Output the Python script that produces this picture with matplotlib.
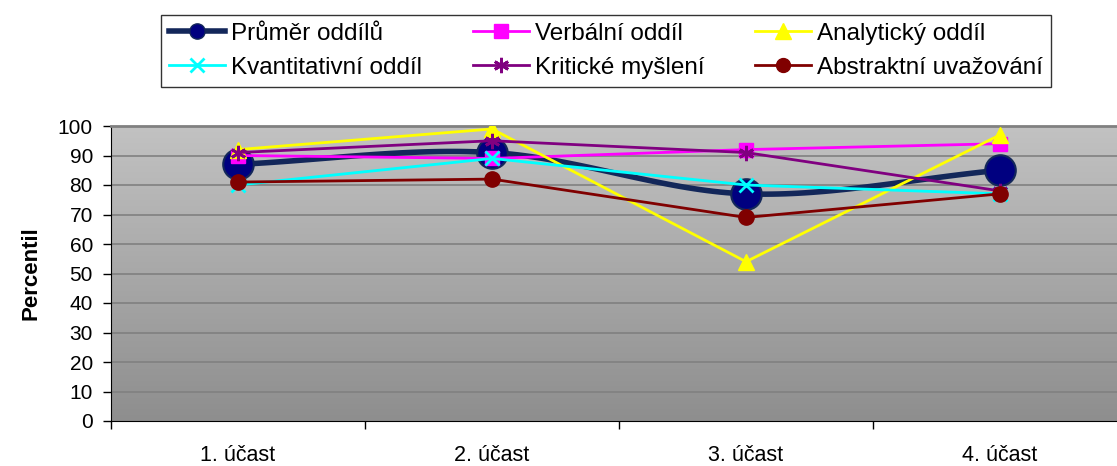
import numpy as np
import matplotlib
matplotlib.use("Agg")
import matplotlib.pyplot as plt
from matplotlib.lines import Line2D

plt.rcParams['font.family'] = ['Liberation Sans', 'DejaVu Sans']

categories = ["1. účast", "2. účast", "3. účast", "4. účast"]
prumer = [87, 91, 77, 85]
verbalni = [90, 89, 92, 94]
analyticky = [92, 99, 54, 97]
kvantitativni = [80, 89, 80, 77]
kriticke = [91, 95, 91, 78]
abstraktni = [81, 82, 69, 77]
yticks = list(range(0, 101, 10))

W, H = 1117, 466
fig = plt.figure(figsize=(W / 100, H / 100), dpi=100)
ax = fig.add_axes([111 / W, (H - 421) / H, 1016 / W, 295 / H])

x = np.arange(len(categories))

# gradient background (light at top, darker at bottom)
grad = np.linspace(0, 1, 256).reshape(-1, 1)
top = np.array([194, 194, 194]) / 255
bot = np.array([142, 142, 142]) / 255
img = top[None, None, :] * (1 - grad[:, :, None]) + bot[None, None, :] * grad[:, :, None]
ax.imshow(img, extent=[-0.5, 3.5, 0, 100], aspect='auto', zorder=0, origin='upper')
ax.set_xlim(-0.5, 3.5)
ax.set_ylim(0, 100)

for yv in yticks[1:]:
    ax.axhline(yv, color='#808080', lw=1.2, zorder=1)


def catmull(xs, ys, n=40):
    xs = np.asarray(xs, float); ys = np.asarray(ys, float)
    px = np.concatenate([[2 * xs[0] - xs[1]], xs, [2 * xs[-1] - xs[-2]]])
    py = np.concatenate([[2 * ys[0] - ys[1]], ys, [2 * ys[-1] - ys[-2]]])
    ox, oy = [], []
    for i in range(1, len(px) - 2):
        t = np.linspace(0, 1, n)
        for arr, out in ((px, ox), (py, oy)):
            p0, p1, p2, p3 = arr[i - 1], arr[i], arr[i + 1], arr[i + 2]
            out.extend(0.5 * ((2 * p1) + (-p0 + p2) * t + (2 * p0 - 5 * p1 + 4 * p2 - p3) * t ** 2
                              + (-p0 + 3 * p1 - 3 * p2 + p3) * t ** 3))
    return np.array(ox), np.array(oy)

navy_line = '#13275a'
sx, sy = catmull(x, prumer)
ax.plot(sx, sy, color=navy_line, lw=4, zorder=2, solid_capstyle='round')
ax.plot(x, prumer, ls='none', marker='o', ms=22, mfc='#000080', mec=navy_line, mew=1.5, zorder=2)

series = [
    (verbalni, '#ff00ff', 's', 10, {}),
    (analyticky, '#ffff00', '^', 11, {}),
    (kvantitativni, '#00ffff', 'x', 10, {'mew': 2}),
    (kriticke, '#800080', (6, 2, 0), 11, {'mew': 2}),
    (abstraktni, '#800000', 'o', 11, {}),
]
for i, (vals, col, mk, ms, kw) in enumerate(series):
    ax.plot(x, vals, color=col, lw=2, marker=mk, ms=ms, mfc=col, mec=col, zorder=3 + i, **kw)

ax.set_yticks(yticks)
ax.set_xticks(x)
ax.set_xticklabels(categories, fontsize=15.5)
ax.tick_params(axis='x', length=0, pad=17)
ax.set_xticks(np.arange(-0.5, 4.0, 1.0), minor=True)
ax.tick_params(axis='x', which='minor', length=6, width=1, direction='out', color='black')
ax.tick_params(axis='y', labelsize=15, length=6, width=1, direction='out', pad=7)
ax.spines['right'].set_visible(False)
ax.spines['top'].set_color('#808080')
ax.spines['top'].set_linewidth(2)
ax.spines['left'].set_color('black')
ax.spines['bottom'].set_color('black')
ax.set_ylabel('Percentil', fontsize=16, fontweight='bold', labelpad=12)

handles = [
    Line2D([], [], color=navy_line, lw=4, marker='o', ms=11, mfc='#000080', mec=navy_line, label='Průměr oddílů'),
    Line2D([], [], color='#00ffff', lw=2, marker='x', ms=10, mew=2, mec='#00ffff', label='Kvantitativní oddíl'),
    Line2D([], [], color='#ff00ff', lw=2, marker='s', ms=10, mfc='#ff00ff', mec='#ff00ff', label='Verbální oddíl'),
    Line2D([], [], color='#800080', lw=2, marker=(6, 2, 0), ms=11, mew=2, mec='#800080', label='Kritické myšlení'),
    Line2D([], [], color='#ffff00', lw=2, marker='^', ms=11, mfc='#ffff00', mec='#ffff00', label='Analytický oddíl'),
    Line2D([], [], color='#800000', lw=2, marker='o', ms=10, mfc='#800000', mec='#800000', label='Abstraktní uvažování'),
]
leg = fig.legend(handles=handles, ncol=3, loc='upper left',
                 bbox_to_anchor=(161 / W, 1 - 15 / H), bbox_transform=fig.transFigure,
                 fontsize=17.5, frameon=True, fancybox=False, edgecolor='black',
                 handlelength=2.3, handletextpad=0.25, columnspacing=2.1, labelspacing=0.5,
                 borderpad=0.32, borderaxespad=0)
leg.get_frame().set_linewidth(1)

fig.savefig('out.png', dpi=100)
